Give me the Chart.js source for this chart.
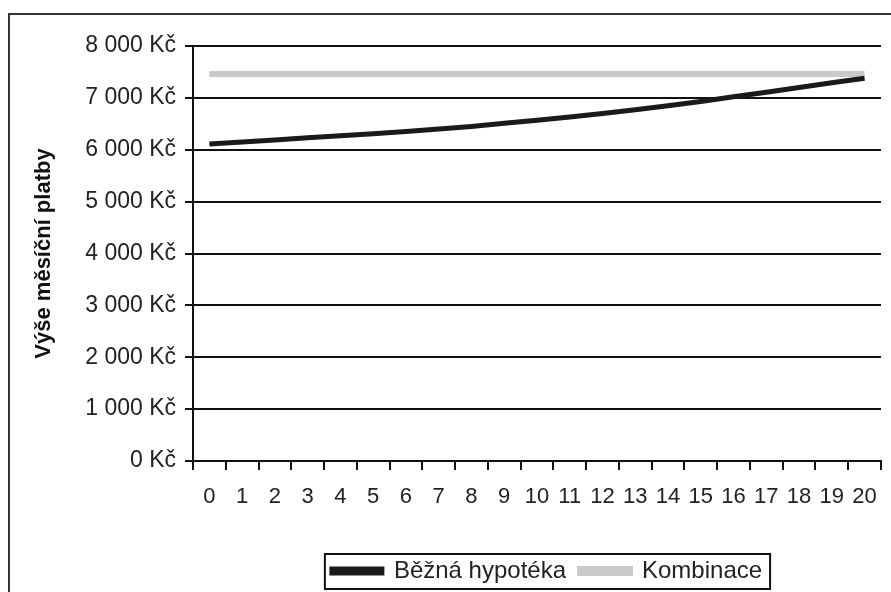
<!DOCTYPE html>
<html>
<head>
<meta charset="utf-8">
<script src="https://cdn.jsdelivr.net/npm/chart.js@4.4.1/dist/chart.umd.min.js"></script>
<style>
    html, body { margin: 0; padding: 0; background: #fff; }
    #wrap { width: 891px; height: 592px; position: relative; }
</style>
</head>
<body>
<div id="wrap"><canvas id="paymentChart" width="891" height="592"></canvas></div>
<script>
// years of the mortgage
const years = ["0", "1", "2", "3", "4", "5", "6", "7", "8", "9", "10",
    "11", "12", "13", "14", "15", "16", "17", "18", "19", "20"];
// monthly payment, plain mortgage
const bezna = [6110, 6150, 6190, 6230, 6270, 6310, 6350, 6400, 6450, 6510, 6570,
    6630, 6700, 6770, 6850, 6930, 7020, 7110, 7200, 7290, 7380];
// monthly payment, combination - flat
const kombinace = [7460, 7460, 7460, 7460, 7460, 7460, 7460, 7460, 7460, 7460, 7460,
    7460, 7460, 7460, 7460, 7460, 7460, 7460, 7460, 7460, 7460];
const yTicks = [0, 1000, 2000, 3000, 4000, 5000, 6000, 7000, 8000];

const FONT = "'Liberation Sans', Arial, sans-serif";

function formatKc(value) {
    const s = String(value);
    return (s.length > 3 ? s.slice(0, -3) + " " + s.slice(-3) : s) + " Kč";
}

// outer frame + box round the legend
const framePlugin = {
    id: "frame",
    afterLayout(chart) {
        // legend sits under the plot area, not the whole canvas
        const legend = chart.legend;
        const shift = (chart.chartArea.left + chart.chartArea.right) / 2 + 10 - (legend.left + legend.right) / 2;
        legend.left += shift;
        legend.right += shift;
    },
    afterDraw(chart) {
        const ctx = chart.ctx;
        ctx.save();
        ctx.strokeStyle = "#333";
        ctx.lineWidth = 2;
        ctx.beginPath();
        ctx.moveTo(9, 600);
        ctx.lineTo(9, 14);
        ctx.lineTo(891, 14);
        ctx.stroke();

        const boxes = chart.legend.legendHitBoxes;
        if (boxes && boxes.length) {
            const first = boxes[0];
            const last = boxes[boxes.length - 1];
            const x0 = first.left - 7;
            const x1 = last.left + last.width + 8;
            const y0 = first.top - 5;
            const y1 = first.top + first.height + 6;
            ctx.strokeStyle = "#111";
            ctx.lineWidth = 2;
            ctx.strokeRect(x0, y0, x1 - x0, y1 - y0);
        }
        ctx.restore();
    }
};

const ctx = document.getElementById("paymentChart").getContext("2d");
new Chart(ctx, {
    type: "line",
    data: {
        labels: years,
        datasets: [{
            label: "Běžná hypotéka",
            data: bezna,
            borderColor: "#1a1a1a",
            backgroundColor: "#1a1a1a",
            borderWidth: 5,
            pointRadius: 0,
            tension: 0,
            order: 1
        }, {
            label: "Kombinace",
            data: kombinace,
            borderColor: "#c9c9c9",
            backgroundColor: "#c9c9c9",
            borderWidth: 6,
            pointRadius: 0,
            tension: 0,
            order: 2
        }]
    },
    options: {
        responsive: false,
        animation: false,
        devicePixelRatio: 1,
        layout: { padding: { top: 46, right: 8, bottom: -1, left: 0 } },
        plugins: {
            tooltip: { enabled: false },
            legend: {
                position: "bottom",
                labels: {
                    color: "#222",
                    font: { family: FONT, size: 24 },
                    boxWidth: 50,
                    boxHeight: 4,
                    padding: 14
                }
            }
        },
        scales: {
            x: {
                offset: true,
                afterFit: scale => { scale.height = 84; },
                grid: {
                    offset: true,
                    drawOnChartArea: false,
                    drawTicks: true,
                    tickLength: 9,
                    color: "#111",
                    lineWidth: 2
                },
                border: { display: true, color: "#111", width: 2 },
                ticks: {
                    color: "#222",
                    font: { family: FONT, size: 22 },
                    padding: 14,
                    maxRotation: 0,
                    autoSkip: false
                }
            },
            y: {
                min: 0,
                max: 8000,
                afterFit: scale => { scale.width = 193; },
                afterBuildTicks: scale => { scale.ticks = yTicks.map(v => ({ value: v })); },
                grid: {
                    color: "#111",
                    lineWidth: 2,
                    drawTicks: true,
                    tickLength: 8
                },
                border: { display: true, color: "#111", width: 2 },
                ticks: {
                    color: "#222",
                    font: { family: FONT, size: 23 },
                    padding: 9,
                    callback: value => formatKc(value)
                },
                title: {
                    display: true,
                    text: "Výše měsíční platby",
                    color: "#111",
                    font: { family: FONT, size: 22, weight: "bold" },
                    padding: { top: 31, bottom: 0 }
                }
            }
        }
    },
    plugins: [framePlugin]
});
</script>
</body>
</html>
